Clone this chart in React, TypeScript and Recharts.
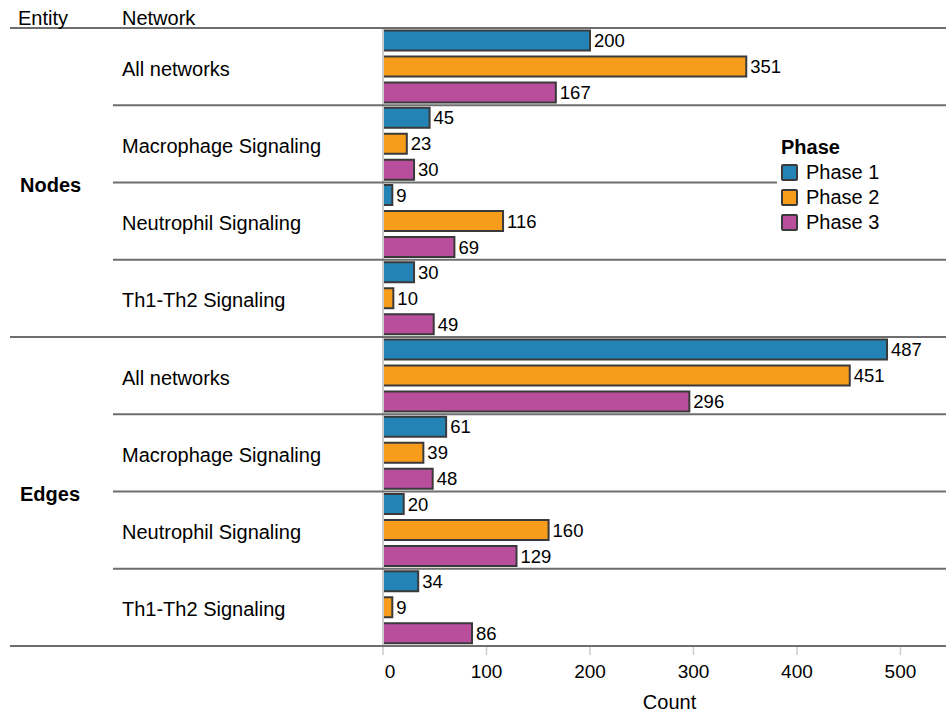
import React from 'react';
import { BarChart, Bar, XAxis, YAxis, LabelList, Legend } from 'recharts';

const entities = ['Nodes', 'Nodes', 'Nodes', 'Nodes', 'Edges', 'Edges', 'Edges', 'Edges'];
const networks = [
  'All networks', 'Macrophage Signaling', 'Neutrophil Signaling', 'Th1-Th2 Signaling',
  'All networks', 'Macrophage Signaling', 'Neutrophil Signaling', 'Th1-Th2 Signaling',
];
const phase1 = [200, 45, 9, 30, 487, 61, 20, 34];
const phase2 = [351, 23, 116, 10, 451, 39, 160, 9];
const phase3 = [167, 30, 69, 49, 296, 48, 129, 86];
const xTicks = [0, 100, 200, 300, 400, 500];
const seriesNames = ['Phase 1', 'Phase 2', 'Phase 3'];
const seriesKeys = ['p1', 'p2', 'p3'];
const seriesColors = ['#2383b5', '#f89c1c', '#b94f9c'];

const W = 946;
const H = 712;
const TOP = 28;
const XAXIS_H = 66;
const YAXIS_W = 383;
const ROWS = networks.length;
const BAND = (H - TOP - XAXIS_H) / ROWS;
const FONT = '"Liberation Sans", Arial, Helvetica, sans-serif';
const LINE = '#6e6e6e';

const data = networks.map((n, i) => ({
  key: `${entities[i]}|${n}`,
  p1: phase1[i],
  p2: phase2[i],
  p3: phase3[i],
}));

function NetworkTick(props: any) {
  const { y, payload } = props;
  const i: number = props.index ?? payload?.index ?? 0;
  const top = y - BAND / 2;
  const isStart = i === 0 || entities[i] !== entities[i - 1];
  let n = 0;
  if (isStart) {
    while (i + n < ROWS && entities[i + n] === entities[i]) n++;
  }
  const isLast = i === ROWS - 1;
  return (
    <g fontFamily={FONT} fontSize={20} fill="#000">
      <line x1={isStart ? 10 : 113} x2={W} y1={top} y2={top} stroke={LINE} strokeWidth={2} />
      {isLast && <line x1={10} x2={W} y1={top + BAND} y2={top + BAND} stroke={LINE} strokeWidth={2} />}
      {i === 0 && (
        <>
          <text x={18} y={top - 3} fill="#000">Entity</text>
          <text x={122} y={top - 3} fill="#000">Network</text>
        </>
      )}
      {isStart && (
        <text x={20} y={top + (n * BAND) / 2 + 2} dy="0.35em" fontWeight="bold" fill="#000">
          {entities[i]}
        </text>
      )}
      <text x={122} y={y + 2} dy="0.35em" fill="#000">{networks[i]}</text>
    </g>
  );
}

function CountTick(props: any) {
  const { x, y, payload } = props;
  const shift = payload.value === 0 ? 7 : 0;
  return (
    <text
      x={x + shift}
      y={y}
      dy="0.71em"
      textAnchor="middle"
      fontFamily={FONT}
      fontSize={19}
      fill="#000"
    >
      {payload.value}
    </text>
  );
}

function PhaseLegend() {
  return (
    <div
      style={{
        background: '#fff',
        fontFamily: FONT,
        fontSize: 20,
        lineHeight: '25px',
        color: '#000',
        paddingLeft: 4,
      }}
    >
      <div style={{ fontWeight: 'bold' }}>Phase</div>
      {seriesNames.map((s, i) => (
        <div key={s} style={{ display: 'flex', alignItems: 'center', height: 25 }}>
          <span
            style={{
              display: 'inline-block',
              width: 13,
              height: 13,
              border: '2px solid #3a3a3a',
              borderRadius: 2,
              background: seriesColors[i],
              marginRight: 8,
            }}
          />
          {s}
        </div>
      ))}
    </div>
  );
}

export default function App() {
  return (
    <div style={{ position: 'absolute', left: 0, top: 0, width: W, height: H, background: '#fff', fontFamily: FONT }}>
      <BarChart
        width={W}
        height={H}
        data={data}
        layout="vertical"
        margin={{ top: TOP, right: 0, bottom: 0, left: 0 }}
        barCategoryGap={2.6}
        barGap={6}
      >
        <XAxis
          type="number"
          domain={[0, 544]}
          ticks={xTicks}
          allowDataOverflow
          axisLine={false}
          tickLine={{ stroke: '#cccccc', strokeWidth: 1.5 }}
          tickSize={9}
          tickMargin={10}
          height={XAXIS_H}
          tick={<CountTick />}
          label={{ value: 'Count', position: 'insideBottom', offset: 3, dx: 5, fontSize: 20, fill: '#000', fontFamily: FONT }}
        />
        <YAxis
          type="category"
          dataKey="key"
          width={YAXIS_W}
          interval={0}
          tickLine={false}
          axisLine={{ stroke: '#cccccc', strokeWidth: 2 }}
          tick={<NetworkTick />}
        />
        <Legend
          layout="vertical"
          align="center"
          verticalAlign="middle"
          content={<PhaseLegend />}
          wrapperStyle={{ position: 'absolute', left: 777, top: 134.5, width: 169 }}
        />
        {seriesKeys.map((k, i) => (
          <Bar
            key={k}
            dataKey={k}
            name={seriesNames[i]}
            fill={seriesColors[i]}
            stroke="#3a3a3a"
            strokeWidth={2}
            isAnimationActive={false}
          >
            <LabelList
              dataKey={k}
              position="right"
              offset={4}
              fill="#000"
              fontSize={18.5}
              fontFamily={FONT}
            />
          </Bar>
        ))}
      </BarChart>
    </div>
  );
}
